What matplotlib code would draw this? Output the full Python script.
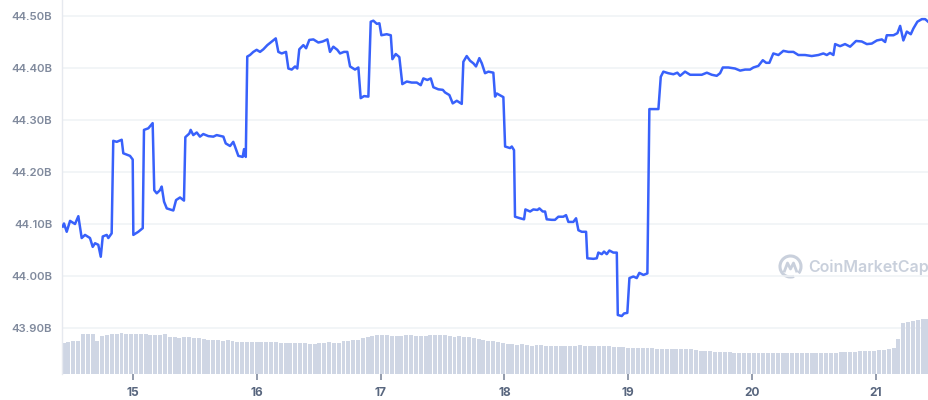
import numpy as np
import matplotlib
matplotlib.use("Agg")
import matplotlib.pyplot as plt
from matplotlib.ticker import FuncFormatter, FixedLocator
from matplotlib.patches import Arc
from matplotlib.lines import Line2D

plt.rcParams['font.family'] = ['Inter', 'DejaVu Sans']

# ---- data ----
# time in days (day of month), market cap in billions USD
t = [14.433, 14.443, 14.465, 14.492, 14.532, 14.559, 14.586, 14.613, 14.653, 14.675,
     14.694, 14.720, 14.740, 14.756, 14.788, 14.801, 14.828, 14.841, 14.869, 14.909,
     14.922, 14.976, 14.998, 15.003, 15.043, 15.079, 15.089, 15.124, 15.159, 15.172,
     15.192, 15.218, 15.232, 15.251, 15.273, 15.326, 15.348, 15.380, 15.412, 15.423,
     15.455, 15.466, 15.487, 15.515, 15.541, 15.568, 15.609, 15.649, 15.676, 15.730,
     15.749, 15.784, 15.810, 15.824, 15.851, 15.886, 15.897, 15.911, 15.923, 15.945,
     15.972, 15.999, 16.026, 16.053, 16.085, 16.121, 16.153, 16.174, 16.201, 16.236,
     16.255, 16.282, 16.309, 16.327, 16.343, 16.376, 16.398, 16.424, 16.457, 16.497,
     16.532, 16.570, 16.591, 16.618, 16.650, 16.672, 16.704, 16.731, 16.753, 16.793,
     16.820, 16.839, 16.866, 16.901, 16.920, 16.941, 16.969, 16.990, 17.006, 17.049,
     17.082, 17.095, 17.122, 17.151, 17.175, 17.211, 17.251, 17.292, 17.324, 17.345,
     17.377, 17.405, 17.426, 17.466, 17.502, 17.520, 17.555, 17.582, 17.615, 17.655,
     17.668, 17.695, 17.722, 17.749, 17.770, 17.797, 17.817, 17.843, 17.870, 17.910,
     17.924, 17.938, 17.991, 18.005, 18.045, 18.059, 18.077, 18.085, 18.126, 18.158,
     18.169, 18.207, 18.233, 18.266, 18.282, 18.309, 18.328, 18.341, 18.382, 18.408,
     18.435, 18.475, 18.497, 18.516, 18.556, 18.578, 18.597, 18.624, 18.659, 18.669,
     18.718, 18.745, 18.758, 18.786, 18.804, 18.826, 18.847, 18.879, 18.907, 18.915,
     18.947, 18.966, 18.992, 19.009, 19.041, 19.068, 19.089, 19.122, 19.154, 19.170,
     19.202, 19.243, 19.262, 19.283, 19.323, 19.364, 19.396, 19.418, 19.458, 19.499,
     19.553, 19.593, 19.634, 19.674, 19.714, 19.741, 19.763, 19.808, 19.862, 19.903,
     19.943, 19.983, 20.010, 20.050, 20.086, 20.113, 20.139, 20.171, 20.212, 20.252,
     20.293, 20.333, 20.373, 20.427, 20.481, 20.535, 20.575, 20.603, 20.629, 20.656,
     20.670, 20.710, 20.750, 20.791, 20.839, 20.885, 20.926, 20.966, 21.007, 21.047,
     21.074, 21.087, 21.141, 21.173, 21.195, 21.221, 21.249, 21.281, 21.302, 21.334,
     21.370, 21.397, 21.421]

mcap = [44.095, 44.101, 44.085, 44.106, 44.100, 44.115, 44.073, 44.079, 44.073, 44.056,
        44.063, 44.060, 44.037, 44.076, 44.079, 44.073, 44.082, 44.260, 44.258, 44.262,
        44.236, 44.231, 44.224, 44.079, 44.085, 44.092, 44.281, 44.284, 44.294, 44.165,
        44.159, 44.165, 44.172, 44.143, 44.130, 44.126, 44.146, 44.151, 44.145, 44.267,
        44.274, 44.281, 44.271, 44.276, 44.268, 44.273, 44.269, 44.268, 44.271, 44.268,
        44.255, 44.250, 44.258, 44.249, 44.231, 44.229, 44.244, 44.229, 44.422, 44.425,
        44.431, 44.435, 44.431, 44.436, 44.444, 44.451, 44.457, 44.431, 44.428, 44.431,
        44.399, 44.397, 44.403, 44.399, 44.436, 44.444, 44.438, 44.454, 44.455, 44.449,
        44.451, 44.455, 44.431, 44.441, 44.435, 44.428, 44.431, 44.431, 44.403, 44.397,
        44.401, 44.342, 44.346, 44.345, 44.489, 44.491, 44.485, 44.486, 44.463, 44.465,
        44.463, 44.417, 44.427, 44.421, 44.369, 44.374, 44.372, 44.372, 44.367, 44.380,
        44.377, 44.380, 44.363, 44.359, 44.358, 44.353, 44.348, 44.332, 44.337, 44.331,
        44.412, 44.423, 44.414, 44.409, 44.403, 44.419, 44.409, 44.390, 44.393, 44.391,
        44.345, 44.351, 44.344, 44.249, 44.246, 44.249, 44.242, 44.114, 44.111, 44.109,
        44.128, 44.124, 44.128, 44.127, 44.130, 44.124, 44.124, 44.109, 44.108, 44.108,
        44.114, 44.114, 44.117, 44.104, 44.104, 44.111, 44.088, 44.085, 44.085, 44.034,
        44.033, 44.034, 44.045, 44.042, 44.047, 44.042, 44.049, 44.045, 44.045, 43.925,
        43.923, 43.928, 43.929, 43.996, 43.999, 43.996, 44.006, 44.002, 44.005, 44.321,
        44.321, 44.321, 44.383, 44.393, 44.390, 44.388, 44.391, 44.385, 44.393, 44.387,
        44.387, 44.387, 44.391, 44.387, 44.385, 44.390, 44.401, 44.401, 44.399, 44.395,
        44.397, 44.397, 44.401, 44.404, 44.415, 44.410, 44.410, 44.428, 44.425, 44.433,
        44.431, 44.431, 44.425, 44.425, 44.423, 44.425, 44.428, 44.425, 44.429, 44.425,
        44.446, 44.442, 44.446, 44.441, 44.452, 44.451, 44.446, 44.447, 44.453, 44.455,
        44.450, 44.463, 44.463, 44.467, 44.481, 44.453, 44.470, 44.465, 44.476, 44.489,
        44.494, 44.494, 44.489]

# 24h volume in billions USD, roughly 25 samples per day
volume = [1.54, 1.62, 1.67, 1.67, 2.00, 2.00, 2.00, 1.67, 1.92, 1.97,
          2.02, 2.02, 2.07, 2.02, 2.02, 2.02, 2.00, 2.02, 1.97, 1.97,
          1.97, 2.00, 1.87, 1.87, 1.82, 1.87, 1.87, 1.82, 1.82, 1.77,
          1.72, 1.72, 1.72, 1.67, 1.72, 1.67, 1.62, 1.62, 1.62, 1.62,
          1.62, 1.62, 1.62, 1.62, 1.62, 1.57, 1.57, 1.57, 1.57, 1.57,
          1.54, 1.52, 1.52, 1.54, 1.54, 1.62, 1.57, 1.57, 1.67, 1.67,
          1.72, 1.72, 1.82, 1.87, 1.90, 1.95, 1.97, 1.97, 1.92, 1.92,
          1.92, 1.97, 1.95, 1.92, 1.92, 1.92, 1.97, 1.97, 1.97, 1.95,
          1.92, 1.87, 1.92, 1.87, 1.87, 1.82, 1.77, 1.72, 1.67, 1.64,
          1.62, 1.57, 1.52, 1.52, 1.47, 1.50, 1.47, 1.42, 1.47, 1.44,
          1.42, 1.42, 1.42, 1.42, 1.42, 1.42, 1.42, 1.47, 1.42, 1.42,
          1.42, 1.42, 1.42, 1.42, 1.37, 1.37, 1.37, 1.32, 1.32, 1.32,
          1.32, 1.32, 1.32, 1.27, 1.27, 1.27, 1.27, 1.27, 1.27, 1.27,
          1.27, 1.22, 1.17, 1.17, 1.17, 1.12, 1.12, 1.12, 1.12, 1.07,
          1.07, 1.07, 1.04, 1.04, 1.04, 1.04, 1.07, 1.07, 1.07, 1.04,
          1.04, 1.04, 1.04, 1.04, 1.07, 1.04, 1.04, 1.04, 1.04, 1.04,
          1.07, 1.12, 1.12, 1.12, 1.12, 1.17, 1.17, 1.17, 1.17, 1.22,
          1.22, 1.27, 1.32, 1.75, 2.55, 2.60, 2.65, 2.70, 2.77, 2.75]

x_ticks = [15, 16, 17, 18, 19, 20, 21]
y_ticks = [43.90, 44.00, 44.10, 44.20, 44.30, 44.40, 44.50]

# ---- figure ----
fig = plt.figure(figsize=(9.29, 4.0), dpi=100)
ax = fig.add_axes([62 / 929, 26 / 400, 867 / 929, 374 / 400])
x_start, x_end = 14.427, 21.428
ax.set_xlim(x_start, x_end)
ax.set_ylim(43.8115, 44.5308)

# volume bars on twin axis
ax2 = ax.twinx()
vol_t = np.linspace(14.44, 21.415, len(volume))
step = vol_t[1] - vol_t[0]
ax2.bar(vol_t, volume, width=step * 0.82, color='#cfd6e4', linewidth=0, zorder=1)
ax2.set_ylim(0, 18.7)
ax2.set_yticks([])
ax2.set_zorder(1)
ax.set_zorder(2)
ax.patch.set_visible(False)
ax2.set_xlim(x_start, x_end)

# grid drawn on the bar axis (below bars)
for yv in y_ticks:
    ax2.axhline((yv - 43.8115) / (44.5308 - 43.8115) * 18.7, color='#eff2f5', lw=1.1, zorder=0)

ax.plot(t, mcap, color='#3861fb', lw=1.8, solid_joinstyle='round', zorder=3)

ax.yaxis.set_major_locator(FixedLocator(y_ticks))
ax.yaxis.set_major_formatter(FuncFormatter(lambda v, p: f"{v:.2f}B"))
ax.set_xticks(x_ticks)
ax.set_xticklabels([str(v) for v in x_ticks])

ax.tick_params(axis='y', length=0, pad=7, labelsize=8.2, labelcolor='#808a9d')
ax.tick_params(axis='x', length=4, width=1.2, color='#808a9d', pad=5, labelsize=8.6,
               labelcolor='#58667e')
for lab in ax.get_yticklabels():
    lab.set_fontweight('semibold')
for lab in ax.get_xticklabels():
    lab.set_fontweight('bold')

for a in (ax, ax2):
    for s in ['top', 'right', 'bottom']:
        a.spines[s].set_visible(False)
ax2.spines['left'].set_visible(False)
ax.spines['left'].set_color('#e6e9ef')
ax.spines['left'].set_linewidth(1.0)

# watermark
wm_col = '#c9d0dc'
fig.text(808 / 929, (400 - 267) / 400, 'CoinMarketCap', color=wm_col, fontsize=11.5,
         fontweight='semibold', va='center', ha='left')
arc = Arc((7.905, 1.335), 0.21, 0.21, theta1=-40, theta2=290,
          transform=fig.dpi_scale_trans, color=wm_col, lw=2.2)
fig.add_artist(arc)
fig.add_artist(Line2D([7.845, 7.875, 7.905, 7.935, 7.965], [1.29, 1.37, 1.31, 1.37, 1.29],
                      transform=fig.dpi_scale_trans, color=wm_col, lw=2.0,
                      solid_joinstyle='round'))

fig.savefig('out.png', dpi=100)
